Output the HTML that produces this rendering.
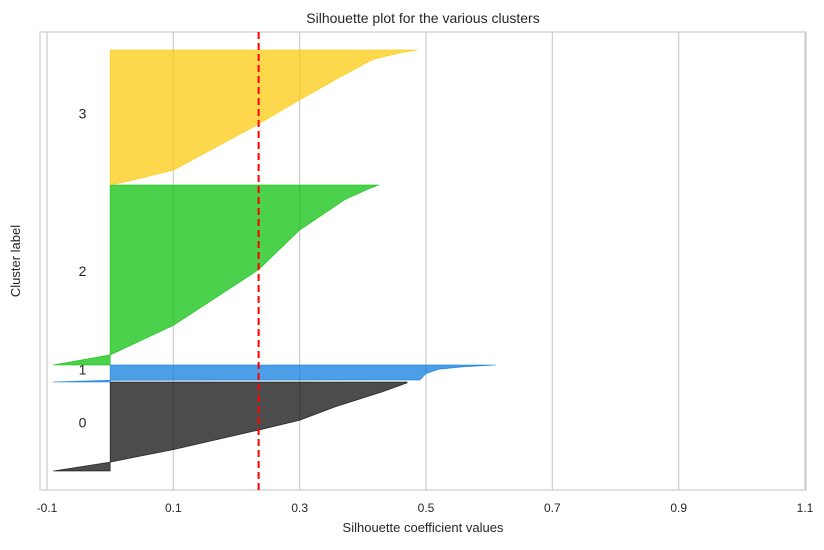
<!DOCTYPE html>
<html><head><meta charset="utf-8"><style>
body{margin:0;background:#fff;font-family:"Liberation Sans",sans-serif;}
svg text{font-family:"Liberation Sans",sans-serif;fill:#262626;}
</style></head><body>
<svg id="chart" width="824" height="545"></svg>
<script>
const clusterNames=["0","1","2","3"];
const clusterSizes=[89,17,180,135];
const frac0=[0,0.1,0.24,0.46,0.57,0.72,0.88,0.99,1];
const vals0=[-0.09,0.0,0.1,0.235,0.3,0.356,0.427,0.47,0.47];
const frac1=[0,0.1,0.12,0.5,0.75,0.9,1];
const vals1=[-0.09,0.0,0.49,0.5,0.52,0.56,0.61];
const frac2=[0,0.056,0.22,0.53,0.75,0.92,0.98,1];
const vals2=[-0.09,0.0,0.1,0.235,0.3,0.372,0.41,0.425];
const frac3=[0,0.03,0.11,0.43,0.63,0.8,0.93,0.98,1];
const vals3=[0.0,0.03,0.1,0.227,0.3,0.364,0.416,0.46,0.486];
const avgScore=0.235;
const xTicks=[-0.1,0.1,0.3,0.5,0.7,0.9,1.1];
const colors=["rgb(0,0,0)","rgb(0,118,219)","rgb(0,189,0)","rgb(252,200,0)"];

const NS="http://www.w3.org/2000/svg";
const svg=document.getElementById('chart');
const L=40,R=806,T=32,B=490;
const xMin=-0.1,xMax=1.1,yMin=0,yMax=458,yStart=19;
const xs=v=>47+(v-xMin)/(xMax-xMin)*(805-47);
const ys=v=>B-(v-yMin)/(yMax-yMin)*(B-T);
function mk(tag,attrs,parent){const e=document.createElementNS(NS,tag);for(const k in attrs)e.setAttribute(k,attrs[k]);(parent||svg).appendChild(e);return e;}

const frame=mk('rect',{x:L,y:T,width:R-L,height:B-T,fill:'#fff',stroke:'#cccccc','stroke-width':1.2});


xTicks.forEach(t=>{
  const g=mk('line',{x1:xs(t),x2:xs(t),y1:T,y2:B,stroke:'#cccccc','stroke-width':1.2});
  
  
  const tx=mk('text',{x:xs(t),y:512,'text-anchor':'middle','font-size':12});
  tx.textContent=t.toFixed(1);
  
  
});
const fracs=[frac0,frac1,frac2,frac3],valsAll=[vals0,vals1,vals2,vals3];
let yl=yStart;
clusterNames.forEach((name,i)=>{
  const n=clusterSizes[i],f=fracs[i],v=valsAll[i];
  let d='M'+xs(0)+','+ys(yl);
  for(let j=0;j<f.length;j++)d+=' L'+xs(v[j])+','+ys(yl+f[j]*n);
  d+=' L'+xs(0)+','+ys(yl+n)+' Z';
  const p=mk('path',{d:d,fill:colors[i],'fill-opacity':0.7,stroke:colors[i],'stroke-opacity':0.7,'stroke-width':0.8,'stroke-linejoin':'round'});
  
  
  const lb=mk('text',{x:xs(-0.05)+4,y:ys(yl+n/2)+1,'text-anchor':'middle','font-size':14});
  lb.textContent=name;
  
  
  yl+=n;
});
const av=mk('line',{x1:xs(avgScore),x2:xs(avgScore),y1:T,y2:B,stroke:'#ff0000','stroke-width':2,'stroke-dasharray':'7,4'});


</script>
<div style="position:absolute;left:0;top:0;width:824px;height:545px;pointer-events:none">
<svg width="824" height="545">
<text x="423" y="23" text-anchor="middle" font-size="14">Silhouette plot for the various clusters</text>
<text x="423" y="532" text-anchor="middle" font-size="13">Silhouette coefficient values</text>
<text x="20" y="261" text-anchor="middle" font-size="13" transform="rotate(-90 20 261)">Cluster label</text>
</svg></div>
</body></html>
